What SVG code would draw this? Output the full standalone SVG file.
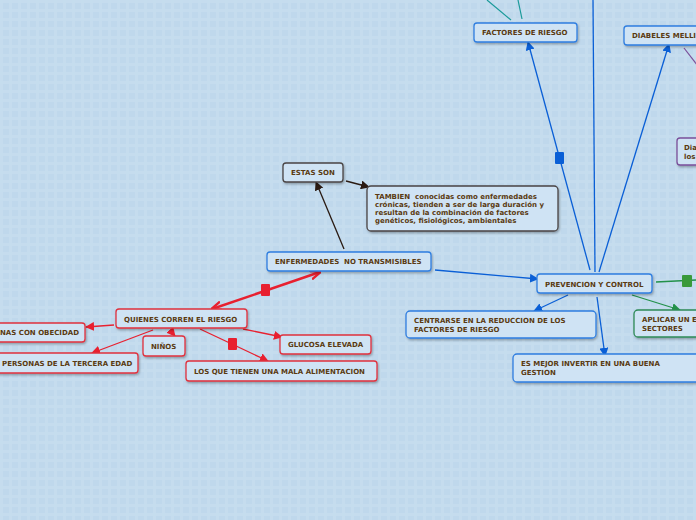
<svg xmlns="http://www.w3.org/2000/svg" width="696" height="520" viewBox="0 0 696 520">
<defs>
<pattern id="grid" width="9" height="9" patternUnits="userSpaceOnUse">
<rect width="9" height="9" fill="#bfd8ec"/>
<rect x="0" y="0" width="9" height="3" fill="#c6ddef" opacity="0.9"/>
<rect x="0" y="0" width="3" height="9" fill="#c6ddef" opacity="0.9"/>
</pattern>
<filter id="sh" x="-10%" y="-20%" width="130%" height="160%">
<feDropShadow dx="1" dy="1.5" stdDeviation="1" flood-color="#000" flood-opacity="0.3"/>
</filter>
<marker id="ab" viewBox="0 0 10 10" refX="9" refY="5" markerWidth="9" markerHeight="9" markerUnits="userSpaceOnUse" orient="auto"><path d="M0,0 L10,5 L0,10 Z" fill="#0a5fd6"/></marker>
<marker id="ar" viewBox="0 0 10 10" refX="9" refY="5" markerWidth="9" markerHeight="9" markerUnits="userSpaceOnUse" orient="auto"><path d="M0,0 L10,5 L0,10 Z" fill="#e8202f"/></marker>
<marker id="ard" viewBox="0 0 10 10" refX="9" refY="5" markerWidth="11" markerHeight="11" markerUnits="userSpaceOnUse" orient="auto-start-reverse"><path d="M0,1 L10,5 L0,9" fill="none" stroke="#e8202f" stroke-width="2.2"/></marker>
<marker id="ak" viewBox="0 0 10 10" refX="9" refY="5" markerWidth="9" markerHeight="9" markerUnits="userSpaceOnUse" orient="auto"><path d="M0,0 L10,5 L0,10 Z" fill="#2a1a12"/></marker>
<marker id="ag" viewBox="0 0 10 10" refX="9" refY="5" markerWidth="9" markerHeight="9" markerUnits="userSpaceOnUse" orient="auto"><path d="M0,0 L10,5 L0,10 Z" fill="#22914a"/></marker>
</defs>
<style>
.n{fill:#cfe3f4;stroke-width:1.3;filter:url(#sh)}
.b{stroke:#2f7ee0}
.r{stroke:#e0303e}
.k{stroke:#4a4444}
.g{stroke:#2e8b57}
.p{stroke:#7a4f9a}
text{font-family:"DejaVu Sans","Verdana",sans-serif;font-weight:bold;font-size:7px;fill:#5a3a10;white-space:pre}
.lb{stroke:#0a5fd6;stroke-width:1.3;fill:none}
.lr{stroke:#e8202f;stroke-width:1.3;fill:none}
.lk{stroke:#2a1a12;stroke-width:1.3;fill:none}
.lg{stroke:#22914a;stroke-width:1.3;fill:none}
</style>
<rect width="696" height="520" fill="url(#grid)"/>
<g id="connectors">
<line class="lk" x1="344" y1="249" x2="316" y2="182" marker-end="url(#ak)"/>
<line class="lk" x1="346" y1="181" x2="369" y2="187" marker-end="url(#ak)"/>
<line class="lb" x1="435" y1="270" x2="538" y2="279" marker-end="url(#ab)"/>
<line class="lr" x1="320" y1="272" x2="212" y2="309" style="stroke-width:2.4" marker-start="url(#ard)" marker-end="url(#ard)"/>
<rect x="261" y="284" width="9" height="12" rx="1" fill="#e8202f"/>
<line class="lr" x1="114" y1="325" x2="86" y2="327" marker-end="url(#ar)"/>
<line class="lr" x1="153" y1="330" x2="92" y2="353" marker-end="url(#ar)"/>
<line class="lr" x1="170" y1="330" x2="175" y2="336" marker-end="url(#ar)"/>
<line class="lr" x1="243" y1="329" x2="282" y2="337" marker-end="url(#ar)"/>
<line class="lr" x1="200" y1="329" x2="268" y2="361" marker-end="url(#ar)"/>
<rect x="228" y="338" width="9" height="12" rx="1" fill="#e8202f"/>
<line class="lb" x1="590" y1="270" x2="528" y2="42" marker-end="url(#ab)"/>
<rect x="555" y="152" width="9" height="12" rx="1" fill="#0a5fd6"/>
<line class="lb" x1="595" y1="272" x2="593" y2="0"/>
<line class="lb" x1="599" y1="272" x2="669" y2="44" marker-end="url(#ab)"/>
<line class="lb" x1="568" y1="295" x2="534" y2="311" marker-end="url(#ab)"/>
<line class="lb" x1="597" y1="297" x2="605" y2="356" marker-end="url(#ab)"/>
<line class="lg" x1="632" y1="295" x2="680" y2="310" marker-end="url(#ag)"/>
<line class="lg" x1="656" y1="282" x2="696" y2="280"/>
<rect x="682" y="275" width="10" height="12" rx="1" fill="#3a9a3a"/>
<line x1="511" y1="20" x2="487" y2="0" stroke="#1a9a9a" stroke-width="1.2"/>
<line x1="522" y1="19" x2="518" y2="0" stroke="#1a9a9a" stroke-width="1.2"/>
<line x1="684" y1="48" x2="698" y2="66" stroke="#7a4f9a" stroke-width="1.2"/>
</g>
<g id="estas-son"><rect class="n k" x="283" y="163" width="60" height="19" rx="3"/><text x="291" y="175">ESTAS SON</text></g>
<g id="tambien"><rect class="n k" x="367" y="186" width="191" height="45" rx="4"/>
<text x="375" y="199" xml:space="preserve">TAMBIEN  conocidas como enfermedades</text>
<text x="375" y="207">crónicas, tienden a ser de larga duración y</text>
<text x="375" y="215">resultan de la combinación de factores</text>
<text x="375" y="223">genéticos, fisiológicos, ambientales</text></g>
<g id="enfermedades"><rect class="n b" x="267" y="252" width="164" height="19" rx="3"/><text x="275" y="264" xml:space="preserve">ENFERMEDADES  NO TRANSMISIBLES</text></g>
<g id="prevencion"><rect class="n b" x="537" y="274" width="115" height="19" rx="3"/><text x="545" y="287">PREVENCION Y CONTROL</text></g>
<g id="factores"><rect class="n b" x="474" y="23" width="103" height="19" rx="3"/><text x="482" y="35">FACTORES DE RIESGO</text></g>
<g id="diabeles"><rect class="n b" x="624" y="26" width="90" height="19" rx="3"/><text x="632" y="38">DIABELES MELLI</text></g>
<g id="dia"><rect class="n p" x="677" y="138" width="40" height="27" rx="3"/><text x="684" y="150">Dia</text><text x="684" y="159">los</text></g>
<g id="centrarse"><rect class="n b" x="406" y="311" width="190" height="27" rx="4"/><text x="414" y="323">CENTRARSE EN LA REDUCCION DE LOS</text><text x="414" y="332">FACTORES DE RIESGO</text></g>
<g id="aplicar"><rect class="n g" x="634" y="310" width="80" height="27" rx="4"/><text x="642" y="322">APLICAR UN E</text><text x="642" y="331">SECTORES</text></g>
<g id="es-mejor"><rect class="n b" x="513" y="354" width="200" height="28" rx="4"/><text x="521" y="366">ES MEJOR INVERTIR EN UNA BUENA</text><text x="521" y="375">GESTION</text></g>
<g id="quienes"><rect class="n r" x="116" y="309" width="131" height="19" rx="3"/><text x="124" y="322">QUIENES CORREN EL RIESGO</text></g>
<g id="obecidad"><rect class="n r" x="-20" y="323" width="105" height="19" rx="3"/><text x="0" y="335">NAS CON OBECIDAD</text></g>
<g id="tercera-edad"><rect class="n r" x="-20" y="353" width="158" height="20" rx="3"/><text x="2" y="366">PERSONAS DE LA TERCERA EDAD</text></g>
<g id="ninos"><rect class="n r" x="143" y="336" width="42" height="20" rx="3"/><text x="151" y="349">NIÑOS</text></g>
<g id="glucosa"><rect class="n r" x="280" y="335" width="91" height="19" rx="3"/><text x="288" y="347">GLUCOSA ELEVADA</text></g>
<g id="alimentacion"><rect class="n r" x="186" y="361" width="191" height="20" rx="3"/><text x="194" y="374">LOS QUE TIENEN UNA MALA ALIMENTACION</text></g>
</svg>
